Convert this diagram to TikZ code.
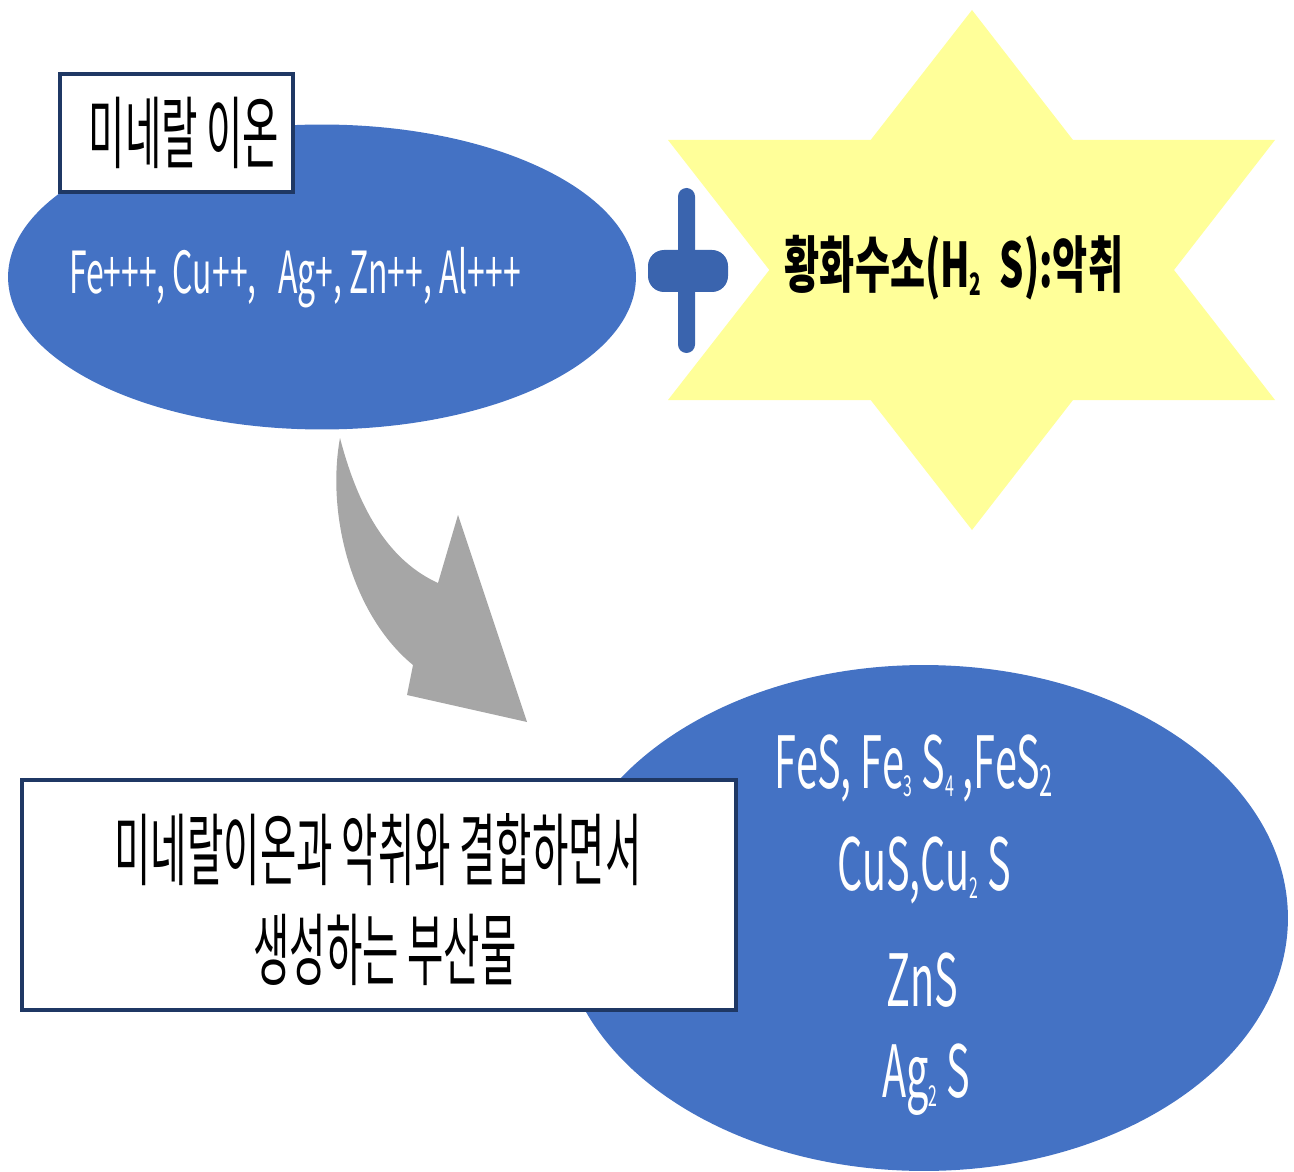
\documentclass[tikz,border=0pt]{standalone}
\usepackage{fontspec}
\newfontfamily\krc[FakeStretch=0.5]{Noto Sans CJK KR}
\newfontfamily\krb[FakeStretch=0.62]{Noto Sans CJK KR}
\newfontfamily\lat[FakeStretch=0.55]{Noto Sans CJK KR}
\usetikzlibrary{shapes.geometric}
\definecolor{ellblue}{HTML}{4472C4}
\definecolor{plusblue}{HTML}{3A64AE}
\definecolor{navy}{HTML}{1F3864}
\definecolor{staryellow}{HTML}{FFFF99}
\definecolor{arrowgray}{HTML}{A6A6A6}
\newcommand\sbx[2][0.4]{\raisebox{-0.12em}{\scalebox{#1}{#2}}}
\tikzset{
  blob/.style={ellipse, fill=ellblue, draw=none, inner sep=0pt},
  labelbox/.style={rectangle, fill=white, draw=navy, line width=2.3pt, inner sep=0pt},
  wtext/.style={text=white, inner sep=0pt, font=\lat\fontsize{33}{38}\selectfont},
  btext/.style={text=black, inner sep=0pt},
}
\begin{document}
\begin{tikzpicture}[x=0.02cm, y=-0.02cm]
\useasboundingbox (0,0) rectangle (1294,1172);
% star
\coordinate (st1) at (972,10);
\coordinate (st2) at (668,400);
\coordinate (st3) at (1275,400);
\coordinate (sb1) at (972,530);
\coordinate (sb2) at (668,140);
\coordinate (sb3) at (1275,140);
\fill[staryellow] (st1) -- (st2) -- (st3) -- cycle;
\fill[staryellow] (sb1) -- (sb2) -- (sb3) -- cycle;
\node[btext, font=\krb\bfseries\fontsize{35}{40}\selectfont] (startext) at (954,268) {황화수소(H\sbx[0.5]{2}\hspace{0.3em}S):악취};
% plus
\fill[plusblue, rounded corners=8.5*0.02cm] (678,188) rectangle (695,353);
\fill[plusblue, rounded corners=16*0.02cm] (648,250) rectangle (728,292);
% top ellipse
\node[blob, minimum width=12.56cm, minimum height=6.1cm] (ions) at (322,277) {};
\node[wtext] (ionstext) at (295,278) {Fe+++, Cu++,\hspace{0.25em} Ag+, Zn++, Al+++};
\node[labelbox, minimum width=4.66cm, minimum height=2.36cm] (label) at (176.5,133) {};
\node[btext, font=\krc\fontsize{45}{50}\selectfont] (labeltext) at (184,133) {미네랄 이온};
% gray arrow
\fill[arrowgray] (340,438) .. controls (326,515) and (352,615) .. (413,665)
  -- (407,695) -- (527,722) -- (458,515) -- (438,583)
  .. controls (392,562) and (360,515) .. (340,438) -- cycle;
% bottom ellipse
\node[blob, minimum width=14.56cm, minimum height=10.12cm] (products) at (924,918) {};
\node[wtext, font=\lat\fontsize{41}{46}\selectfont] (p1) at (914,768) {FeS, Fe\sbx{3} S\sbx{4} ,FeS\sbx[0.6]{2}};
\node[wtext, font=\lat\fontsize{41}{46}\selectfont] (p2) at (924,870) {CuS,Cu\sbx{2} S};
\node[wtext, font=\lat\fontsize{41}{46}\selectfont] (p3) at (922,980) {ZnS};
\node[wtext, font=\lat\fontsize{41}{46}\selectfont] (p4) at (926,1080) {Ag\sbx{2} S};
% bottom box
\node[labelbox, line width=2.6pt, minimum width=14.28cm, minimum height=4.6cm] (desc) at (379,895) {};
\node[btext, font=\krc\fontsize{45}{50}\selectfont] (d1) at (378,850) {미네랄이온과 악취와 결합하면서};
\node[btext, font=\krc\fontsize{45}{50}\selectfont] (d2) at (385,950) {생성하는 부산물};
\end{tikzpicture}
\end{document}
